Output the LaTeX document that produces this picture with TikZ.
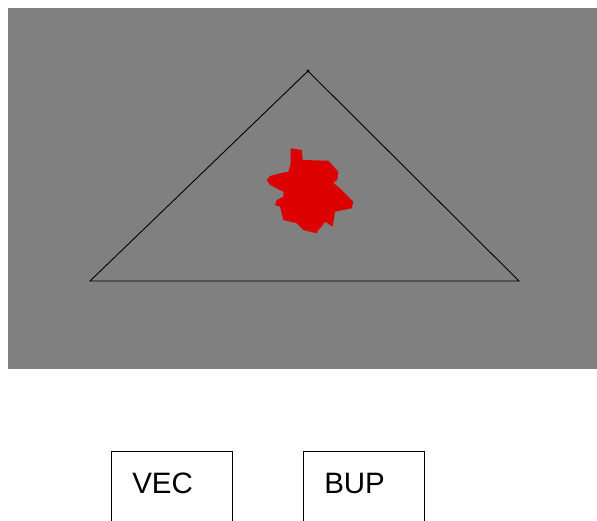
\documentclass[tikz,border=0pt]{standalone}
\usepackage{fontspec}
\setmainfont{Liberation Sans}
\begin{document}
\begin{tikzpicture}[x=1pt,y=-1pt,
  labelbox/.style={draw=black,line width=1.1pt,anchor=north west,font=\fontsize{29.5}{30}\selectfont,
    inner xsep=21pt,inner ysep=0pt,text width=79pt,align=left,text height=42pt,text depth=60pt}]
\useasboundingbox (0,0) rectangle (597,520);
\clip (0,0) rectangle (597,520);
\fill[fill={rgb,255:red,128;green,128;blue,128}] (8,8) rectangle (597,369);
\coordinate (apex) at (308,71);
\coordinate (left) at (90,281);
\coordinate (right) at (519,281);
\draw[line width=0.9pt,black] (apex) -- (left) -- (right) -- cycle;
\fill[black] (apex) circle (1.6pt);
\fill[fill={rgb,255:red,220;green,0;blue,0}]
 (290.7,148.3) -- (301.7,150) -- (302.7,160) -- (328.3,160.7) -- (338.3,171.7) -- (337.3,180) -- (333.3,182.7)
 -- (341.7,190) -- (350,198.3) -- (353.3,201.7) -- (351.7,208.3) -- (335,211.7) -- (332.7,226.7) -- (325,221.7)
 -- (321.7,226.7) -- (318.3,230) -- (316.7,233.3) -- (310,231.7) -- (303.3,230) -- (296.7,223.3) -- (283.3,220)
 -- (280,206.7) -- (275,205) -- (276.7,200) -- (283.3,196.7) -- (283.3,191.7) -- (270,185) -- (266.7,180)
 -- (270,176) -- (280,173.3) -- (288.3,171.7) -- (290.7,163.3) -- cycle;
\node[labelbox] (vec) at (110.7,450.7) {VEC};
\node[labelbox] (bup) at (302.7,450.7) {BUP};
\end{tikzpicture}
\end{document}
